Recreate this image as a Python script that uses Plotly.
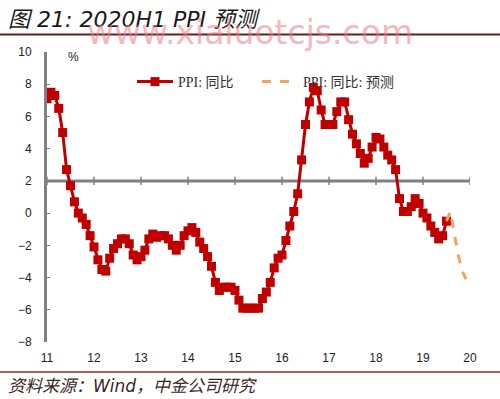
import plotly.graph_objects as go

# ---- data (monthly PPI YoY, %, from Jun 2011) ----
ppi_2011 = [7.1, 7.5, 7.3, 6.5, 5.0, 2.7, 1.7]  # Jun-Dec
ppi_2012 = [0.7, 0.0, -0.3, -0.7, -1.4, -2.1, -2.9, -3.5, -3.6, -2.8, -2.2, -1.9]
ppi_2013 = [-1.6, -1.6, -1.9, -2.6, -2.9, -2.7, -2.3, -1.6, -1.3, -1.5, -1.4, -1.4]
ppi_2014 = [-1.6, -2.0, -2.3, -2.0, -1.4, -1.1, -0.9, -1.2, -1.8, -2.2, -2.7, -3.3]
ppi_2015 = [-4.3, -4.8, -4.6, -4.6, -4.6, -4.8, -5.4, -5.9, -5.9, -5.9, -5.9, -5.9]
ppi_2016 = [-5.3, -4.9, -4.3, -3.4, -2.8, -2.6, -1.7, -0.8, 0.1, 1.2, 3.3, 5.5]
ppi_2017 = [6.9, 7.8, 7.6, 6.4, 5.5, 5.5, 5.5, 6.3, 6.9, 6.9, 5.8, 4.9]
ppi_2018 = [4.3, 3.7, 3.1, 3.4, 4.1, 4.7, 4.6, 4.1, 3.6, 3.3, 2.7, 0.9]
ppi_2019 = [0.1, 0.1, 0.4, 0.9, 0.6, 0.0, -0.3, -0.8, -1.2, -1.6, -1.4, -0.5]
forecast = [-0.5, 0.1, -1.3, -2.6, -3.6, -4.1]  # Dec 2019 - May 2020

tick_labels = ["11", "12", "13", "14", "15", "16", "17", "18", "19", "20"]
y_ticks = [10, 8, 6, 4, 2, 0, -2, -4, -6, -8]
name_actual = "PPI: 同比"
name_fcst = "PPI: 同比: 预测"

actual = ppi_2011 + ppi_2012 + ppi_2013 + ppi_2014 + ppi_2015 + ppi_2016 + ppi_2017 + ppi_2018 + ppi_2019
x_actual = list(range(len(actual)))
x_fcst = list(range(len(actual) - 1, len(actual) - 1 + len(forecast)))
tick_pos = [12 * i for i in range(len(tick_labels))]

# ---- layout geometry (pixels) ----
W, H = 500, 399
L, R, T, B = 47, 30, 52, 57
PW, PH = W - L - R, H - T - B


def pxx(px):
    return (px - L) / PW


def pxy(py):
    return (H - B - py) / PH


RED = "#c00000"
ORANGE = "#f2a35e"
GRAY = "#808080"
SANS = "Liberation Sans, Arial, Noto Sans CJK SC"
WIDE = "DejaVu Sans, Noto Sans CJK SC"
SERIF = "Liberation Serif, Noto Sans CJK SC"

fig = go.Figure()
fig.add_trace(go.Scatter(
    x=x_actual, y=actual, mode="lines+markers", name=name_actual,
    line=dict(color=RED, width=3),
    marker=dict(symbol="square", size=9, color=RED),
    legend="legend",
))
fig.add_trace(go.Scatter(
    x=x_fcst, y=forecast, mode="lines", name=name_fcst,
    line=dict(color=ORANGE, width=3, dash="dash"),
    legend="legend2",
))
# small tick marks on the crossing axis
fig.add_trace(go.Scatter(
    x=tick_pos, y=[2] * len(tick_pos), mode="markers", showlegend=False,
    hoverinfo="skip",
    marker=dict(symbol="line-ns", size=6, line=dict(color=GRAY, width=1.5)),
))

shapes = [
    # horizontal axis crossing at 2
    dict(type="line", xref="x", yref="y", x0=0, x1=tick_pos[-1], y0=2, y1=2,
         line=dict(color=GRAY, width=3), layer="below"),
    # header rule
    dict(type="line", xref="paper", yref="paper", x0=pxx(0), x1=pxx(W),
         y0=pxy(34.5), y1=pxy(34.5), line=dict(color="#6e1a1a", width=2)),
    # footer rule
    dict(type="line", xref="paper", yref="paper", x0=pxx(0), x1=pxx(W),
         y0=pxy(372), y1=pxy(372), line=dict(color="#8a2b2b", width=1.5)),
]

annotations = [
    dict(text="图 21: 2020H1 PPI 预测", xref="paper", yref="paper",
         x=pxx(6), y=pxy(19), xanchor="left", yanchor="middle", showarrow=False,
         font=dict(family=WIDE, size=22, color="#1a1a1a", style="italic")),
    dict(text="www.xialuotcjs.com", xref="paper", yref="paper",
         x=pxx(250), y=pxy(33), xanchor="center", yanchor="middle", showarrow=False,
         font=dict(family=WIDE, size=33, color="rgba(240,120,130,0.55)")),
    dict(text="%", xref="paper", yref="paper",
         x=pxx(73), y=pxy(57), xanchor="center", yanchor="middle", showarrow=False,
         font=dict(family=SANS, size=12, color="#222222")),
    dict(text="资料来源：Wind，中金公司研究", xref="paper", yref="paper",
         x=pxx(6), y=pxy(386), xanchor="left", yanchor="middle", showarrow=False,
         font=dict(family=WIDE, size=17, color="#3c2626", style="italic")),
]

legend_common = dict(orientation="h", xanchor="left", yanchor="top", itemwidth=36,
                     bgcolor="rgba(0,0,0,0)",
                     font=dict(family=SERIF, size=14, color="#333333"))

fig.update_layout(
    width=W, height=H,
    margin=dict(l=L, r=R, t=T, b=B),
    paper_bgcolor="white", plot_bgcolor="white",
    shapes=shapes, annotations=annotations,
    legend=dict(x=pxx(132), y=pxy(66), **legend_common),
    legend2=dict(x=pxx(257), y=pxy(66), **legend_common),
    xaxis=dict(range=[0, tick_pos[-1]], tickvals=tick_pos, ticktext=tick_labels,
               showgrid=False, zeroline=False, showline=False, ticks="",
               tickfont=dict(family=SANS, size=12, color="#222222"),
               ticklabelstandoff=7),
    yaxis=dict(range=[y_ticks[-1], y_ticks[0]], tickvals=y_ticks,
               showgrid=False, zeroline=False, showline=True, linecolor=GRAY, linewidth=3,
               ticks="inside", ticklen=3, tickcolor=GRAY, tickwidth=1,
               tickfont=dict(family=SANS, size=12, color="#222222"),
               ticklabelstandoff=10),
)

fig.write_html("out.html", config={"displayModeBar": False},
               post_script="document.body.style.margin='0';")
